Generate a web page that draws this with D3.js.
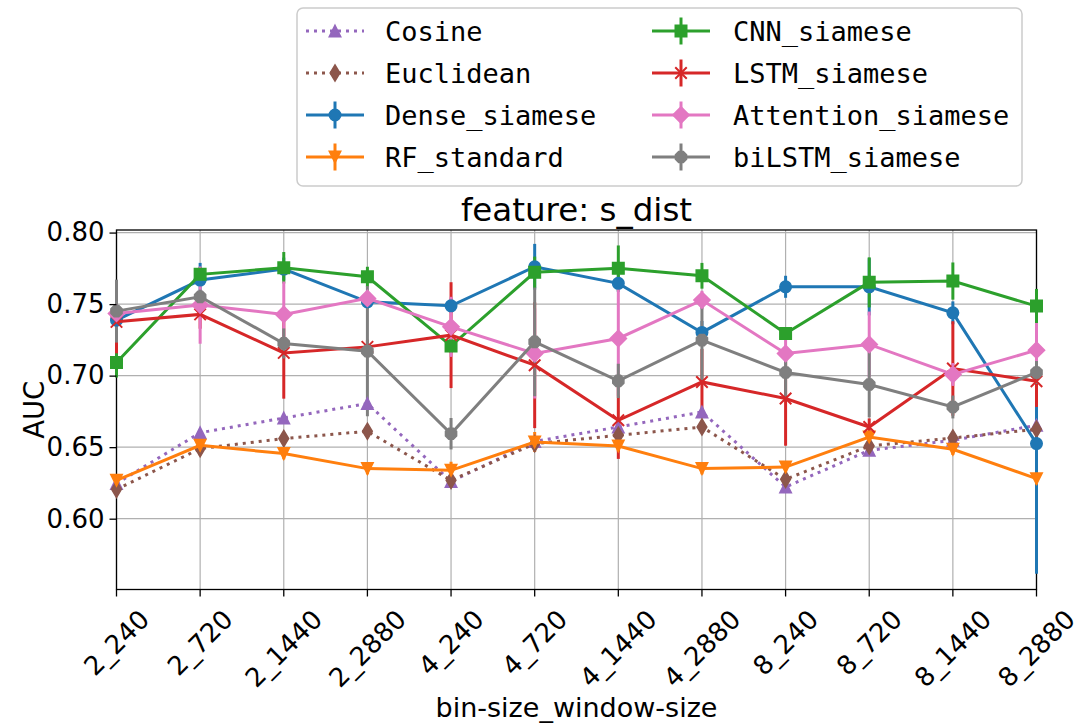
<!DOCTYPE html>
<html lang="en">
<head>
<meta charset="utf-8">
<title>feature: s_dist</title>
<script src="https://d3js.org/d3.v7.min.js"></script>
<style>
  body { margin: 0; background: #fff; }
  svg { display: block; }
  text { font-family: "DejaVu Sans", sans-serif; fill: #000; }
  .mono { font-family: "DejaVu Sans Mono", monospace; }
</style>
</head>
<body>
<script>

// x categories (bin-size_window-size)
var categories = ["2_240", "2_720", "2_1440", "2_2880", "4_240", "4_720",
                  "4_1440", "4_2880", "8_240", "8_720", "8_1440", "8_2880"];
var yTicks = [0.60, 0.65, 0.70, 0.75, 0.80];

// AUC values
var cosine       = [0.6246, 0.6601, 0.6704, 0.6805, 0.6260, 0.6540, 0.6641, 0.6746, 0.6221, 0.6478, 0.6548, 0.6653];
var euclidean    = [0.6205, 0.6490, 0.6560, 0.6611, 0.6268, 0.6524, 0.6583, 0.6641, 0.6275, 0.6508, 0.6564, 0.6625];
var dense        = [0.7388, 0.7668, 0.7745, 0.7516, 0.7488, 0.7761, 0.7645, 0.7302, 0.7621, 0.7621, 0.7439, 0.6525];
var denseErr     = [0.006, 0.012, 0.008, 0.005, 0.005, 0.016, 0.006, 0.008, 0.0077, 0.020, 0.008, 0.091];
var rf           = [0.6268, 0.6513, 0.6455, 0.6350, 0.6338, 0.6536, 0.6508, 0.6350, 0.6361, 0.6571, 0.6485, 0.6280];
var rfErr        = [0.004, 0.007, 0.004, 0.004, 0.006, 0.007, 0.004, 0.004, 0.004, 0.004, 0.004, 0.004];
var cnn          = [0.7092, 0.7708, 0.7754, 0.7691, 0.7208, 0.7722, 0.7750, 0.7698, 0.7295, 0.7652, 0.7661, 0.7486];
var cnnErr       = [0.0105, 0.005, 0.011, 0.007, 0.005, 0.011, 0.016, 0.009, 0.004, 0.0175, 0.013, 0.012];
var lstm         = [0.7376, 0.7428, 0.7159, 0.7201, 0.7283, 0.7073, 0.6688, 0.6956, 0.6840, 0.6641, 0.7050, 0.6961];
var lstmErr      = [0.022, 0.010, 0.032, 0.005, 0.037, 0.044, 0.027, 0.023, 0.033, 0.006, 0.033, 0.018];
var attention    = [0.7435, 0.7493, 0.7428, 0.7540, 0.7341, 0.7155, 0.7260, 0.7528, 0.7155, 0.7218, 0.7008, 0.7178];
var attentionErr = [0.005, 0.027, 0.023, 0.005, 0.021, 0.0315, 0.040, 0.0065, 0.0105, 0.023, 0.008, 0.019];
var bilstm       = [0.7451, 0.7551, 0.7225, 0.7171, 0.6594, 0.7236, 0.6963, 0.7248, 0.7022, 0.6938, 0.6781, 0.7022];
var bilstmErr    = [0.022, 0.005, 0.0105, 0.0455, 0.011, 0.038, 0.012, 0.028, 0.017, 0.023, 0.008, 0.008];

// series in plot order (legend fills column-wise in this order)
var series = [
  {name: "Cosine",            values: cosine,    err: null,         color: "#9467bd", marker: "tri_up",   dotted: true},
  {name: "Euclidean",         values: euclidean, err: null,         color: "#8c564b", marker: "thin_dia", dotted: true},
  {name: "Dense_siamese",     values: dense,     err: denseErr,     color: "#1f77b4", marker: "circle"},
  {name: "RF_standard",       values: rf,        err: rfErr,        color: "#ff7f0e", marker: "tri_down"},
  {name: "CNN_siamese",       values: cnn,       err: cnnErr,       color: "#2ca02c", marker: "square"},
  {name: "LSTM_siamese",      values: lstm,      err: lstmErr,      color: "#d62728", marker: "x"},
  {name: "Attention_siamese", values: attention, err: attentionErr, color: "#e377c2", marker: "diamond"},
  {name: "biLSTM_siamese",    values: bilstm,    err: bilstmErr,    color: "#7f7f7f", marker: "octagon"}
];

var W = 1078, H = 724;
var pLeft = 116.5, pRight = 1036.5, pTop = 230, pBottom = 589.5;
var ms = 11.5; // marker size

var svg = d3.select("body").append("svg")
  .attr("width", W).attr("height", H);

var x = d3.scalePoint().domain(categories).range([pLeft, pRight]).padding(0);
var y = d3.scaleLinear().domain([0.5505, 0.8018]).range([pBottom, pTop]);

// grid
var grid = svg.append("g");
grid.selectAll("line.gx").data(categories).enter().append("line")
  .attr("x1", d => x(d)).attr("x2", d => x(d))
  .attr("y1", pTop).attr("y2", pBottom)
  .attr("stroke", "#b0b0b0").attr("stroke-width", 1.2);
grid.selectAll("line.gy").data(yTicks).enter().append("line")
  .attr("x1", pLeft).attr("x2", pRight)
  .attr("y1", d => y(d)).attr("y2", d => y(d))
  .attr("stroke", "#b0b0b0").attr("stroke-width", 1.2);

// spines (under the data, so edge error bars keep their colour)
svg.append("rect")
  .attr("x", pLeft).attr("y", pTop)
  .attr("width", pRight - pLeft).attr("height", pBottom - pTop)
  .attr("fill", "none").attr("stroke", "#000").attr("stroke-width", 1.3);

// marker paths
function markerPath(type, s) {
  var h = s / 2;
  if (type === "circle") {
    return d3.symbol().type(d3.symbolCircle).size(Math.PI * h * h)();
  }
  if (type === "square") return "M" + (-h) + "," + (-h) + "H" + h + "V" + h + "H" + (-h) + "Z";
  if (type === "tri_up") return "M0," + (-h) + "L" + h + "," + h + "L" + (-h) + "," + h + "Z";
  if (type === "tri_down") return "M0," + h + "L" + h + "," + (-h) + "L" + (-h) + "," + (-h) + "Z";
  if (type === "diamond") { var d = h * 1.414; return "M0," + (-d) + "L" + d + ",0L0," + d + "L" + (-d) + ",0Z"; }
  if (type === "thin_dia") { var dv = h * 1.414, dh = dv * 0.6; return "M0," + (-dv) + "L" + dh + ",0L0," + dv + "L" + (-dh) + ",0Z"; }
  if (type === "x") return "M" + (-h) + "," + (-h) + "L" + h + "," + h + "M" + (-h) + "," + h + "L" + h + "," + (-h);
  if (type === "octagon") {
    var pts = d3.range(8).map(function(k) {
      var a = (22.5 + 45 * k) * Math.PI / 180;
      return [h * 1.05 * Math.cos(a), h * 1.05 * Math.sin(a)];
    });
    return "M" + pts.join("L") + "Z";
  }
}

function drawMarker(g, s, cx, cy) {
  var p = g.append("path")
    .attr("d", markerPath(s.marker, ms))
    .attr("transform", "translate(" + cx + "," + cy + ")");
  if (s.marker === "x") {
    p.attr("fill", "none").attr("stroke", s.color).attr("stroke-width", 2);
  } else {
    p.attr("fill", s.color).attr("stroke", s.color).attr("stroke-width", 1.5);
  }
}

var plot = svg.append("g");

// error bars sit below all lines
series.forEach(function(s) {
  if (!s.err) return;
  plot.append("g").selectAll("line").data(s.values).enter().append("line")
    .attr("x1", (d, i) => x(categories[i])).attr("x2", (d, i) => x(categories[i]))
    .attr("y1", (d, i) => y(d - s.err[i])).attr("y2", (d, i) => y(d + s.err[i]))
    .attr("stroke", s.color).attr("stroke-width", 3);
});

var line = d3.line()
  .x((d, i) => x(categories[i]))
  .y(d => y(d));

series.forEach(function(s) {
  var g = plot.append("g");
  g.append("path").datum(s.values)
    .attr("d", line)
    .attr("fill", "none")
    .attr("stroke", s.color)
    .attr("stroke-width", 3)
    .attr("stroke-dasharray", s.dotted ? "3,5" : null);
  s.values.forEach(function(v, i) { drawMarker(g, s, x(categories[i]), y(v)); });
});

// y axis
var yAxis = svg.append("g")
  .attr("transform", "translate(" + pLeft + ",0)")
  .call(d3.axisLeft(y).tickValues(yTicks).tickFormat(d3.format(".2f")).tickSize(7).tickPadding(5));
yAxis.select(".domain").remove();
yAxis.selectAll("line").attr("stroke", "#000").attr("stroke-width", 1.3);
yAxis.selectAll("text").attr("font-size", 26).attr("font-family", "DejaVu Sans").attr("fill", "#000");

// x axis ticks
svg.append("g").selectAll("line").data(categories).enter().append("line")
  .attr("x1", d => x(d)).attr("x2", d => x(d))
  .attr("y1", pBottom).attr("y2", pBottom + 7)
  .attr("stroke", "#000").attr("stroke-width", 1.3);

// rotated x tick labels, centred under each tick
categories.forEach(function(c) {
  var g = svg.append("g");
  var t = g.append("text")
    .attr("font-size", 26)
    .attr("text-anchor", "middle")
    .attr("transform", "rotate(-45)")
    .text(c);
  var r = t.node().getBoundingClientRect();
  g.attr("transform", "translate(" + (x(c) - (r.left + r.width / 2)) + "," + (604 - r.top) + ")");
});

// labels
svg.append("text")
  .attr("x", (pLeft + pRight) / 2).attr("y", 221)
  .attr("text-anchor", "middle").attr("font-size", 32.5)
  .text("feature: s_dist");

svg.append("text")
  .attr("x", (pLeft + pRight) / 2).attr("y", 717)
  .attr("text-anchor", "middle").attr("font-size", 27)
  .text("bin-size_window-size");

svg.append("text")
  .attr("transform", "translate(44," + ((pTop + pBottom) / 2) + ") rotate(-90)")
  .attr("text-anchor", "middle").attr("font-size", 27.5)
  .text("AUC");

// legend
var legend = svg.append("g");
legend.append("rect")
  .attr("x", 297).attr("y", 8).attr("width", 725).attr("height", 178)
  .attr("rx", 6).attr("fill", "#fff").attr("fill-opacity", 0.8)
  .attr("stroke", "#cccccc").attr("stroke-width", 1.5);

var rowY = [31, 73, 115, 157];
series.forEach(function(s, i) {
  var col = Math.floor(i / 4), row = i % 4;
  var hx = col === 0 ? 306 : 652;
  var cy = rowY[row];
  var g = legend.append("g");
  if (s.err) {
    g.append("line")
      .attr("x1", hx + 29).attr("x2", hx + 29)
      .attr("y1", cy - 13.5).attr("y2", cy + 13.5)
      .attr("stroke", s.color).attr("stroke-width", 3);
  }
  g.append("line")
    .attr("x1", hx).attr("x2", hx + 58)
    .attr("y1", cy).attr("y2", cy)
    .attr("stroke", s.color).attr("stroke-width", 3)
    .attr("stroke-dasharray", s.dotted ? "3,5" : null);
  drawMarker(g, s, hx + 29, cy);
  g.append("text")
    .attr("class", "mono")
    .attr("x", col === 0 ? 385 : 733).attr("y", cy)
    .attr("dy", "0.36em")
    .attr("font-size", 27)
    .text(s.name);
});

</script>
</body>
</html>
